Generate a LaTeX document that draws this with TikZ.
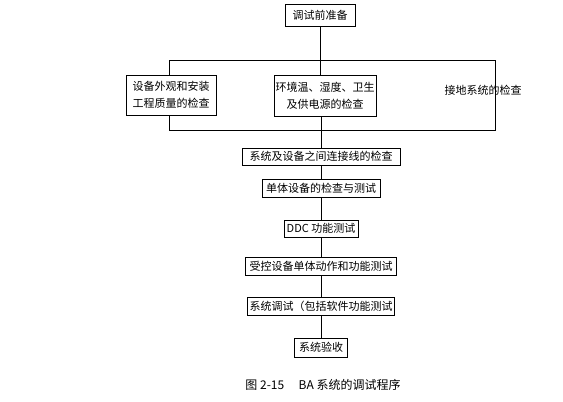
\documentclass[tikz,border=0pt]{standalone}
\usepackage{fontspec}
\setmainfont{Noto Sans CJK SC}
\begin{document}
\begin{tikzpicture}[x=1pt,y=-1pt,
  line width=0.8pt,
  box/.style={draw,fill=white,inner sep=0pt,align=center,font=\fontsize{11}{17}\selectfont},
  lbl/.style={inner sep=0pt,font=\fontsize{11}{17}\selectfont}]
\useasboundingbox (0,0) rectangle (563,402);
% top
\node[box,minimum width=70,minimum height=22] (prep) at (320,15.5) {调试前准备};
% bars
\coordinate (tl) at (169,60);
\coordinate (tm) at (320,60);
\coordinate (tr) at (495,60);
\coordinate (bl) at (169,130);
\coordinate (bm) at (321,130);
\coordinate (br) at (495,130);
\node[box,minimum width=90,minimum height=40] (appear) at (171,95) {设备外观和安装\\工程质量的检查};
\node[box,minimum width=102,minimum height=41] (env) at (325,95.5) {环境温、湿度、卫生\\及供电源的检查};
\node[lbl] (ground) at (483,90) {接地系统的检查};
\draw (prep) -- (tm);
\draw (tl) -- (tr) -- (br) -- (bl);
\draw (tl) -- (tl |- appear.north);
\draw (bl) -- (bl |- appear.south);
\draw (tm) -- (tm |- env.north);
\draw (bm) -- (bm |- env.south);
% column
\node[box,minimum width=158,minimum height=17] (conn) at (321,156.5) {系统及设备之间连接线的检查};
\node[box,minimum width=118,minimum height=18] (unit) at (321,188) {单体设备的检查与测试};
\node[box,minimum width=74,minimum height=17] (ddc) at (321,228.5) {DDC 功能测试};
\node[box,minimum width=151,minimum height=18] (ctrl) at (321,266) {受控设备单体动作和功能测试};
\node[box,minimum width=147,minimum height=18] (sys) at (321,306) {系统调试（包括软件功能测试};
\node[box,minimum width=53,minimum height=19] (acc) at (321,347.5) {系统验收};
\draw (bm) -- (conn);
\draw (conn) -- (unit);
\draw (unit) -- (ddc);
\draw (ddc) -- (ctrl);
\draw (ctrl) -- (sys);
\draw (sys) -- (acc);
\node[lbl,font=\fontsize{12}{14}\selectfont] (cap) at (323,385) {图 2-15\hspace{1.2em}BA 系统的调试程序};
\end{tikzpicture}
\end{document}
